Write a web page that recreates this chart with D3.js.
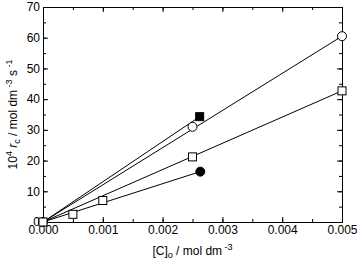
<!DOCTYPE html>
<html>
<head>
<meta charset="utf-8">
<script src="https://cdn.jsdelivr.net/npm/d3@7"></script>
<style>
  body { margin: 0; background: #fff; }
  text { font-family: "Liberation Sans", Arial, sans-serif; fill: #000; }
</style>
</head>
<body>
<div id="graf"></div>
<script>
// datos
conc_cuadros = [0, 0.0005, 0.001, 0.0025, 0.005]
rc_cuadros = [0, 2.5, 7, 21.2, 42.7]
conc_circulos = [0, 0.0025, 0.005]
rc_circulos = [0, 31, 60.5]
conc_cuadro_lleno = [0.00262]
rc_cuadro_lleno = [34.3]
conc_circulo_lleno = [0.00263]
rc_circulo_lleno = [16.4]
xTicks = [0, 0.001, 0.002, 0.003, 0.004, 0.005]
yTicks = [0, 10, 20, 30, 40, 50, 60, 70]

ancho_total = 359
alto_total = 264
margins = { top: 7, left: 43, right: 17, bottom: 42 }
ancho = ancho_total - margins.left - margins.right
alto = alto_total - margins.top - margins.bottom

svg = d3.select('#graf').append('svg')
        .attr('width', ancho_total)
        .attr('height', alto_total)

g = svg.append('g')
        .attr('transform', `translate(${margins.left}, ${margins.top})`)

x = d3.scaleLinear().domain([0, 0.005]).range([0, ancho])
y = d3.scaleLinear().domain([0, 70]).range([alto, 0])

xMinor = d3.range(0, 0.00501, 0.0005)
yMinor = d3.range(0, 71, 5)

// ejes (ticks hacia adentro)
g.append('g').attr('transform', `translate(0, ${alto})`)
        .call(d3.axisBottom(x).tickValues(xMinor).tickSize(-3).tickFormat(''))
g.append('g').attr('transform', `translate(0, ${alto})`)
        .call(d3.axisBottom(x).tickValues(xTicks).tickSize(-5).tickPadding(3).tickFormat(d3.format('.3f')))
g.append('g')
        .call(d3.axisTop(x).tickValues(xMinor).tickSize(-3).tickFormat(''))
g.append('g')
        .call(d3.axisTop(x).tickValues(xTicks).tickSize(-5).tickFormat(''))
g.append('g')
        .call(d3.axisLeft(y).tickValues(yMinor).tickSize(-3).tickFormat(''))
g.append('g')
        .call(d3.axisLeft(y).tickValues(yTicks).tickSize(-5).tickPadding(3).tickFormat(d3.format('d')))
g.append('g').attr('transform', `translate(${ancho}, 0)`)
        .call(d3.axisRight(y).tickValues(yMinor).tickSize(-3).tickFormat(''))
g.append('g').attr('transform', `translate(${ancho}, 0)`)
        .call(d3.axisRight(y).tickValues(yTicks).tickSize(-5).tickFormat(''))

g.selectAll('.domain').attr('stroke', '#000').attr('stroke-width', 1)
g.selectAll('.tick line').attr('stroke', '#000')
g.selectAll('.tick text').style('font-size', '12px').style('font-family', '"Liberation Sans", Arial, sans-serif')

// lineas desde el origen hasta el ultimo punto
series = [
        [conc_cuadros, rc_cuadros],
        [conc_circulos, rc_circulos],
        [conc_cuadro_lleno, rc_cuadro_lleno],
        [conc_circulo_lleno, rc_circulo_lleno]
]
series.forEach(s => {
        n = s[0].length - 1
        g.append('line')
                .attr('x1', x(0)).attr('y1', y(0))
                .attr('x2', x(s[0][n])).attr('y2', y(s[1][n]))
                .attr('stroke', '#000').attr('stroke-width', 1)
})

// marcadores
function cuadros(cx, cy, lleno, lado) {
        g.selectAll(null).data(cx).enter().append('rect')
                .attr('x', (d, i) => x(d) - lado / 2)
                .attr('y', (d, i) => y(cy[i]) - lado / 2)
                .attr('width', lado).attr('height', lado)
                .attr('fill', lleno ? '#000' : '#fff')
                .attr('stroke', '#000').attr('stroke-width', 1)
}
function circulos(cx, cy, lleno, r) {
        g.selectAll(null).data(cx).enter().append('circle')
                .attr('cx', d => x(d))
                .attr('cy', (d, i) => y(cy[i]))
                .attr('r', r)
                .attr('fill', lleno ? '#000' : '#fff')
                .attr('stroke', '#000').attr('stroke-width', 1)
}
circulos(conc_circulos, rc_circulos, false, 4.5)
cuadros(conc_cuadros, rc_cuadros, false, 8)
cuadros(conc_cuadro_lleno, rc_cuadro_lleno, true, 8)
circulos(conc_circulo_lleno, rc_circulo_lleno, true, 4.5)

// titulos
xl = svg.append('text')
        .attr('x', margins.left + ancho / 2)
        .attr('y', 255)
        .attr('text-anchor', 'middle')
        .style('font-size', '12px')
xl.append('tspan').text('[C]')
xl.append('tspan').attr('dy', 3).style('font-size', '9px').text('o')
xl.append('tspan').attr('dy', -3).text(' / mol dm')
xl.append('tspan').attr('dy', -5).style('font-size', '9px').text(' -3')

yl = svg.append('text')
        .attr('transform', `translate(17, ${margins.top + alto / 2}) rotate(-90)`)
        .attr('text-anchor', 'middle')
        .style('font-size', '12px')
yl.append('tspan').text('10')
yl.append('tspan').attr('dy', -5).style('font-size', '9px').text('4')
yl.append('tspan').attr('dy', 5).style('font-style', 'italic').text(' r')
yl.append('tspan').attr('dy', 3).style('font-size', '9px').text('c')
yl.append('tspan').attr('dy', -3).text(' / mol dm')
yl.append('tspan').attr('dy', -5).style('font-size', '9px').text(' -3')
yl.append('tspan').attr('dy', 5).text(' s')
yl.append('tspan').attr('dy', -5).style('font-size', '9px').text(' -1')
</script>
</body>
</html>
